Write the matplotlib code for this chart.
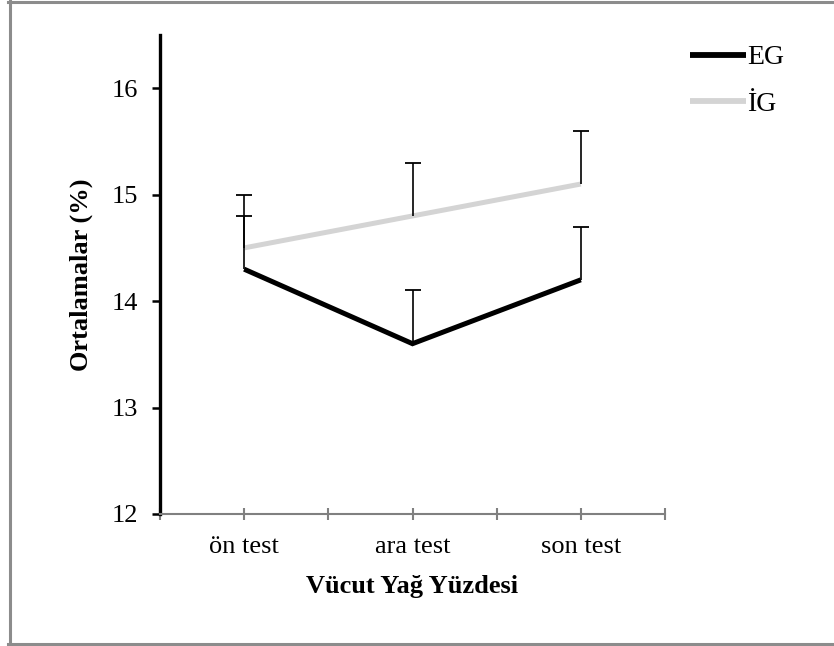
import matplotlib
matplotlib.use("Agg")
import matplotlib.pyplot as plt
from matplotlib.lines import Line2D

plt.rcParams['font.family'] = ['Liberation Serif', 'DejaVu Serif']

categories = ["ön test", "ara test", "son test"]
eg_means = [14.3, 13.6, 14.2]
ig_means = [14.5, 14.8, 15.1]
eg_err = [0.5, 0.5, 0.5]
ig_err = [0.5, 0.5, 0.5]
series_labels = ["EG", "İG"]
y_ticks = [12, 13, 14, 15, 16]

W, H = 834, 646
fig = plt.figure(figsize=(W / 100, H / 100), dpi=100)
ax = fig.add_axes([160 / W, 1 - 514 / H, (665 - 160) / W, (514 - 35) / H])

x = list(range(len(categories)))

eg_line, = ax.plot(x, eg_means, color="black", lw=3.6, solid_capstyle="butt",
                   solid_joinstyle="miter", zorder=3)
ig_line, = ax.plot(x, ig_means, color="#d4d4d4", lw=3.6, solid_capstyle="butt",
                   zorder=3)

# upper-only error bars: hide the lower caps
for means, err in ((eg_means, eg_err), (ig_means, ig_err)):
    cont = ax.errorbar(x, means, yerr=[[0] * len(err), err], fmt="none",
                       ecolor="black", elinewidth=1.2, capsize=6, capthick=1.3,
                       zorder=4)
    caps = cont.lines[1]
    if len(caps) == 2:
        caps[0].set_visible(False)

ax.set_xlim(-0.5, 2.5)
ax.set_ylim(12, 16.5)
ax.set_yticks(y_ticks)
ax.set_xticks(x)
ax.set_xticklabels(categories)
ax.set_xticks([-0.5, 0.5, 1.5, 2.5], minor=True)

for s in ("top", "right"):
    ax.spines[s].set_visible(False)
ax.spines["left"].set_linewidth(2.4)
ax.spines["left"].set_color("black")
ax.spines["bottom"].set_linewidth(1.5)
ax.spines["bottom"].set_color("#808080")

ax.tick_params(axis="y", direction="out", length=6, width=1.8, color="black",
               labelsize=19, pad=10)
ax.tick_params(axis="x", which="both", direction="inout", length=8, width=1.5,
               color="#808080", labelsize=19, pad=12)

ax.set_xlabel("Vücut Yağ Yüzdesi", fontsize=19, fontweight="bold", labelpad=12)
ax.set_ylabel("Ortalamalar (%)", fontsize=19, fontweight="bold", labelpad=13)

leg = ax.legend([eg_line, ig_line], series_labels, loc="upper left",
                bbox_to_anchor=(690 / W, 1 - 45 / H), bbox_transform=fig.transFigure,
                frameon=False, fontsize=20, handlelength=2.0, handletextpad=0.05,
                labelspacing=0.75, borderpad=0, borderaxespad=0)
for h in leg.get_lines():
    h.set_linewidth(4.2)

# outer frame
fc = "#8c8c8c"
fig.add_artist(Line2D([9.5 / W, 9.5 / W], [0, 1], transform=fig.transFigure,
                      color=fc, lw=2.2))
fig.add_artist(Line2D([8 / W, 1], [1 - 1.5 / H, 1 - 1.5 / H],
                      transform=fig.transFigure, color=fc, lw=2.2))
fig.add_artist(Line2D([8 / W, 1], [1 - 644 / H, 1 - 644 / H],
                      transform=fig.transFigure, color=fc, lw=2.2))

fig.savefig("out.png", dpi=100)
